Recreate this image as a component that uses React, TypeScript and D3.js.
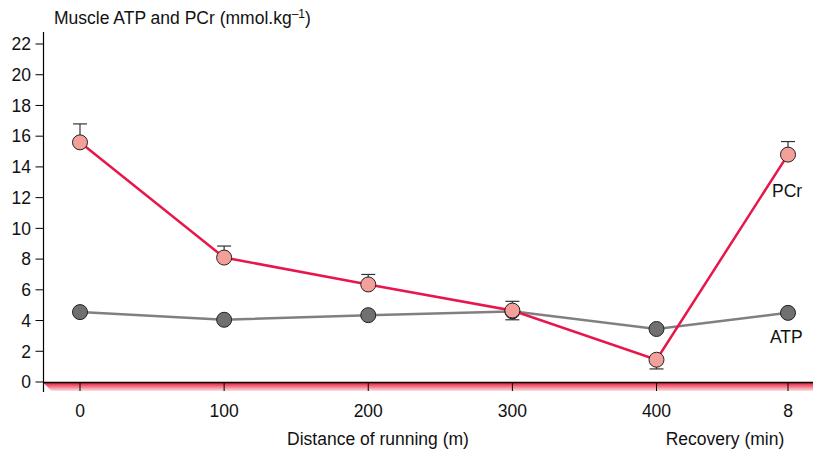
import React from "react";
import * as d3 from "d3";

const categories = ["0", "100", "200", "300", "400", "8"];
const pcrValues = [15.6, 8.1, 6.35, 4.65, 1.45, 14.8];
const pcrErrUp = [1.2, 0.75, 0.65, 0.6, 0, 0.85];
const pcrErrDown = [0, 0, 0, 0.6, 0.6, 0];
const atpValues = [4.55, 4.05, 4.35, 4.6, 3.45, 4.5];
const yTicks = [0, 2, 4, 6, 8, 10, 12, 14, 16, 18, 20, 22];

const W = 813;
const H = 454;
const FONT = "'Liberation Sans', Arial, sans-serif";
const FS = 17.5;

export default function App() {
  const x = d3.scaleLinear().domain([0, 4, 5]).range([80, 656.5, 788]);
  const y = d3.scaleLinear().domain([0, 22]).range([382, 44]);
  const axisX = 43.5;

  const line = d3
    .line<number>()
    .x((_, i) => x(i))
    .y((d) => y(d));

  const pcrColor = "#E8174B";
  const pcrFill = "#F4A09A";
  const atpColor = "#808080";
  const atpFill = "#707070";
  const r = 7.5;

  return (
    <div style={{ position: "fixed", left: 0, top: 0 }}>
      <svg width={W} height={H} style={{ display: "block", fontFamily: FONT }}>
        <defs>
          <linearGradient id="band" x1="0" y1="0" x2="0" y2="1">
            <stop offset="0" stopColor="#E8203F" />
            <stop offset="1" stopColor="#FCE0E2" />
          </linearGradient>
        </defs>
        <rect width={W} height={H} fill="#fff" />
        <polygon
          points={`${axisX},383 ${W},383 ${W},391 ${axisX + 8},391`}
          fill="url(#band)"
        />
        <line x1={axisX} x2={W} y1={382.5} y2={382.5} stroke="#000" strokeWidth={1.5} />
        <line x1={axisX} x2={axisX} y1={32} y2={392} stroke="#000" strokeWidth={1.2} />
        {yTicks.map((t) => (
          <g key={t}>
            <line x1={axisX - 8} x2={axisX} y1={y(t)} y2={y(t)} stroke="#000" strokeWidth={1} />
            <text x={31} y={y(t)} dy="0.36em" textAnchor="end" fontSize={FS} fill="#111">
              {t}
            </text>
          </g>
        ))}
        {categories.map((c, i) => (
          <g key={c}>
            <line x1={x(i)} x2={x(i)} y1={382} y2={391} stroke="#000" strokeWidth={1} />
            <text x={x(i)} y={417} textAnchor="middle" fontSize={FS} fill="#111">
              {c}
            </text>
          </g>
        ))}
        <text x={378} y={445} textAnchor="middle" fontSize={FS} fill="#111">
          Distance of running (m)
        </text>
        <text x={725} y={445} textAnchor="middle" fontSize={FS} fill="#111">
          Recovery (min)
        </text>
        <text x={54} y={24} fontSize={FS} fill="#111">
          Muscle ATP and PCr (mmol.kg
          <tspan dy={-6} fontSize={12}>–1</tspan>
          <tspan dy={6}>)</tspan>
        </text>

        <path d={line(atpValues) || ""} fill="none" stroke={atpColor} strokeWidth={2.5} />
        {atpValues.map((v, i) => (
          <circle key={i} cx={x(i)} cy={y(v)} r={r} fill={atpFill} stroke="#222" strokeWidth={1} />
        ))}

        <path d={line(pcrValues) || ""} fill="none" stroke={pcrColor} strokeWidth={2.5} />
        {pcrValues.map((v, i) => (
          <g key={i}>
            {pcrErrUp[i] > 0 && (
              <g stroke="#333" strokeWidth={1.2}>
                <line x1={x(i)} x2={x(i)} y1={y(v)} y2={y(v + pcrErrUp[i])} />
                <line x1={x(i) - 7} x2={x(i) + 7} y1={y(v + pcrErrUp[i])} y2={y(v + pcrErrUp[i])} />
              </g>
            )}
            {pcrErrDown[i] > 0 && (
              <g stroke="#333" strokeWidth={1.2}>
                <line x1={x(i)} x2={x(i)} y1={y(v)} y2={y(v - pcrErrDown[i])} />
                <line x1={x(i) - 7} x2={x(i) + 7} y1={y(v - pcrErrDown[i])} y2={y(v - pcrErrDown[i])} />
              </g>
            )}
            <circle cx={x(i)} cy={y(v)} r={r} fill={pcrFill} stroke="#222" strokeWidth={1} />
          </g>
        ))}

        <text x={772} y={197} fontSize={FS} fill="#111">PCr</text>
        <text x={770} y={343} fontSize={FS} fill="#111">ATP</text>
      </svg>
    </div>
  );
}
